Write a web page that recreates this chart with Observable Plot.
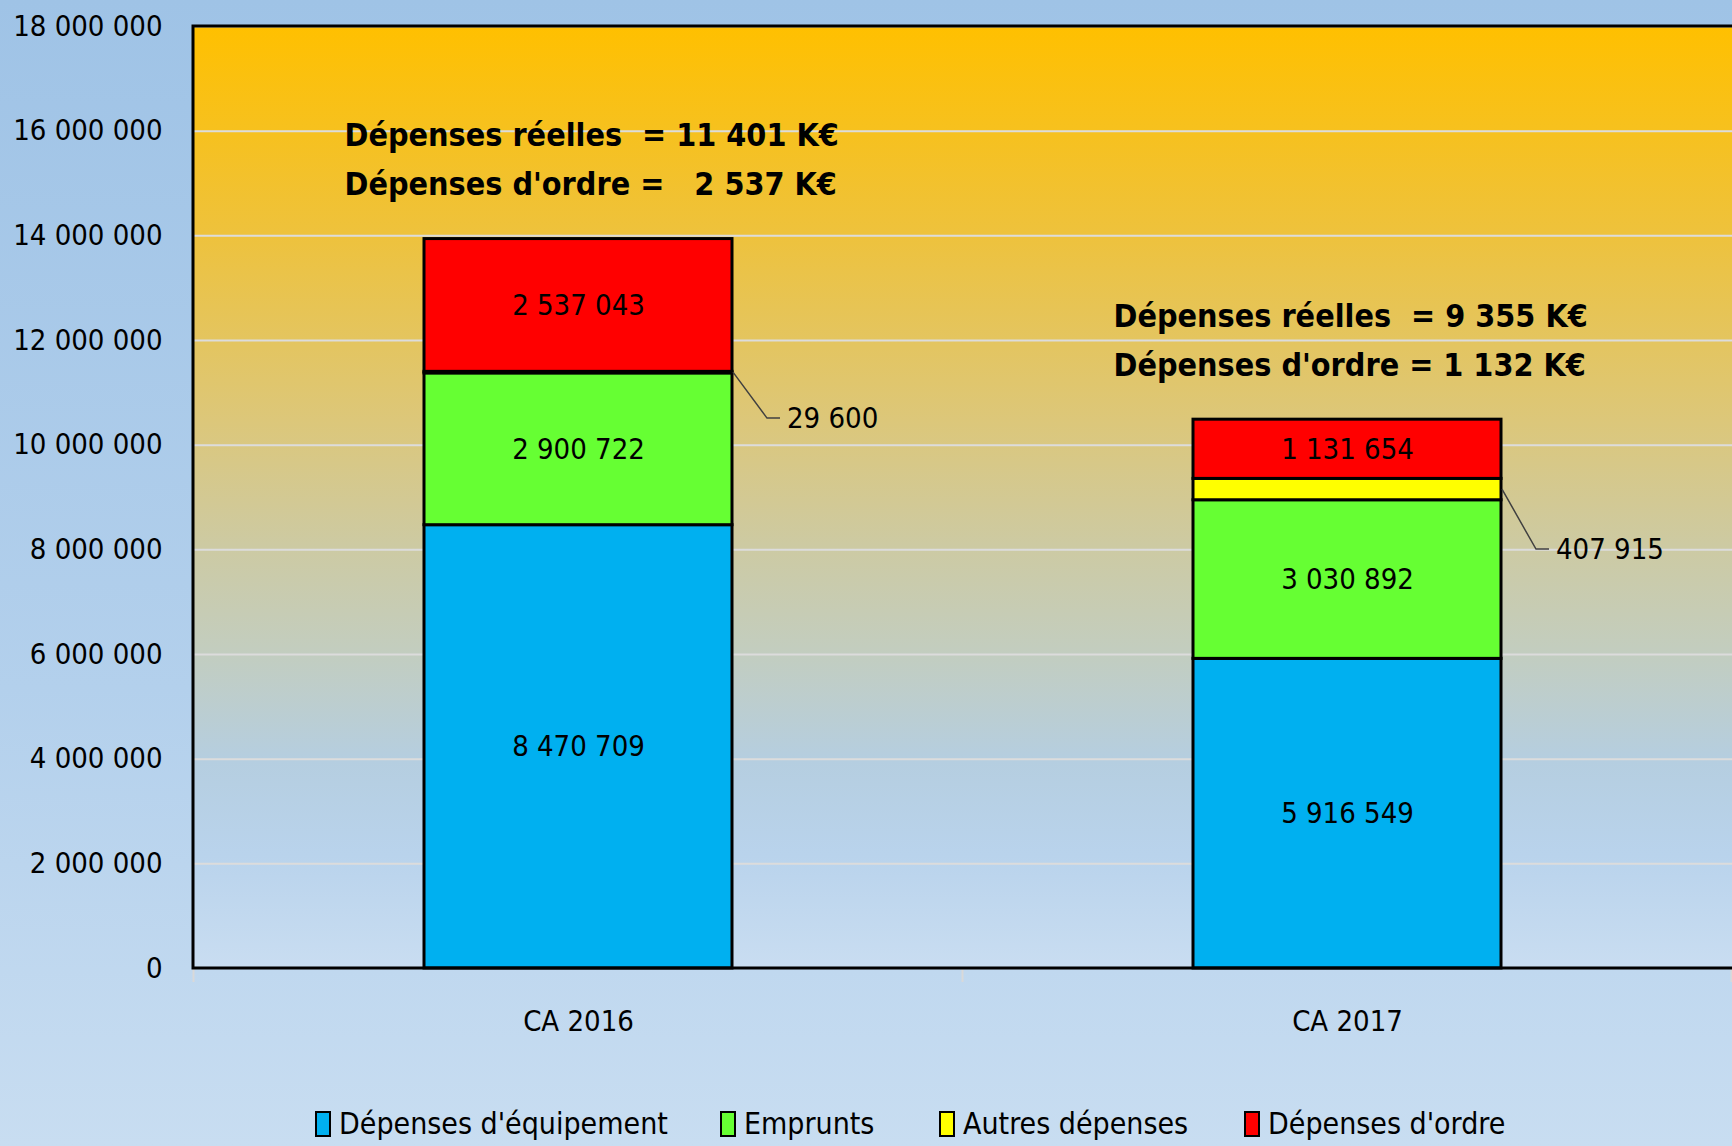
<!DOCTYPE html>
<html>
<head>
<meta charset="utf-8">
<script src="https://cdn.jsdelivr.net/npm/d3@7"></script>
<script src="https://cdn.jsdelivr.net/npm/@observablehq/plot@0.6"></script>
<style>
  html, body { margin: 0; padding: 0; }
  body {
    width: 1732px; height: 1146px; overflow: hidden; position: relative;
    background: linear-gradient(to bottom, #9FC3E6 0%, #B3D0EC 60%, #C8DDF1 100%);
    font-family: "DejaVu Sans Condensed", "Liberation Sans Narrow", sans-serif;
  }
  #chart { position: absolute; left: 0; top: 0; }
  #chart svg text { white-space: pre; }
  #legend { position: absolute; top: 1106px; left: 0; width: 1732px; height: 44px; }
  .item { position: absolute; top: 0; display: flex; align-items: center; font-size: 30px; color: #000; white-space: nowrap; }
  .sw { width: 12px; height: 22px; border: 2.5px solid #000; margin-right: 8px; }
</style>
</head>
<body>
<div id="chart"></div>
<div id="legend"></div>
<script>
// ---- data ----
const categories = ["CA 2016", "CA 2017"];
const seriesNames = ["Dépenses d'équipement", "Emprunts", "Autres dépenses", "Dépenses d'ordre"];
const equipement = [8470709, 5916549];
const emprunts = [2900722, 3030892];
const autres = [29600, 407915];
const ordre = [2537043, 1131654];
const yTicks = [0, 2000000, 4000000, 6000000, 8000000, 10000000, 12000000, 14000000, 16000000, 18000000];
const colors = ["#00B0F0", "#66FF33", "#FFFF00", "#FF0000"];

// ---- build table ----
const seriesValues = [equipement, emprunts, autres, ordre];
const rows = [];
categories.forEach((c, i) => {
  seriesNames.forEach((s, j) => rows.push({cat: c, series: s, value: seriesValues[j][i]}));
});
const fmt = v => d3.format(",")(v).replace(/,/g, " ");
const totals = categories.map((c, i) => {
  const reelles = equipement[i] + emprunts[i] + autres[i];
  return {cat: c, total: reelles + ordre[i], reelles: Math.round(reelles / 1000), ordre: Math.round(ordre[i] / 1000)};
});
const line1 = d => `Dépenses réelles  = ${fmt(d.reelles)} K€`;
const line2 = d => d.ordre >= 2000 ? `Dépenses d'ordre =   ${fmt(d.ordre)} K€` : `Dépenses d'ordre = ${fmt(d.ordre)} K€`;

const W = 1732, H = 1062;
const mL = 193, mT = 26, mR = 0, mB = H - 968;
const font = `"DejaVu Sans Condensed", "Liberation Sans Narrow", sans-serif`;
const FS = 29;
const calloutDy = [46, 60]; // leader line drop per category (style)

const bgMark = (index, scales, values, dims) => {
  const g = d3.create("svg:g");
  const defs = g.append("defs");
  const lg = defs.append("linearGradient").attr("id", "plotgrad").attr("x1", 0).attr("y1", 0).attr("x2", 0).attr("y2", 1);
  [[0, "#FFC000"], [0.22, "#EEC23C"], [0.42, "#DCC77A"], [0.55, "#CDCAA2"], [0.66, "#C3CDBE"], [0.78, "#B5CEE0"], [0.88, "#B9D3EC"], [1, "#C9DDF1"]]
    .forEach(([o, c]) => lg.append("stop").attr("offset", o).attr("stop-color", c));
  g.append("rect").attr("x", dims.marginLeft).attr("y", dims.marginTop)
    .attr("width", dims.width - dims.marginLeft - dims.marginRight)
    .attr("height", dims.height - dims.marginTop - dims.marginBottom)
    .attr("fill", "url(#plotgrad)");
  return g.node();
};

const frameMark = (index, scales, values, dims) => {
  const g = d3.create("svg:g");
  const x0 = dims.marginLeft, y0 = dims.marginTop, y1 = dims.height - dims.marginBottom, x1 = dims.width - dims.marginRight;
  const step = scales.x.step ? scales.x.step() : (x1 - x0) / 2;
  const bw = scales.x.bandwidth();
  const bounds = [scales.x(categories[0]) - (step - bw) / 2];
  categories.forEach(c => bounds.push(scales.x(c) + bw + (step - bw) / 2));
  bounds.forEach(b => g.append("line").attr("x1", b).attr("x2", b).attr("y1", y1).attr("y2", y1 + 14)
    .attr("stroke", "#D9D9D9").attr("stroke-width", 2));
  g.append("path").attr("d", `M${x1 + 2},${y0} H${x0} V${y1} H${x1 + 2}`)
    .attr("fill", "none").attr("stroke", "#000").attr("stroke-width", 3);
  return g.node();
};

const calloutMark = (index, scales, values, dims) => {
  const g = d3.create("svg:g");
  const bw = scales.x.bandwidth();
  categories.forEach((c, i) => {
    const base = equipement[i] + emprunts[i];
    const mid = base + autres[i] / 2;
    const xs = scales.x(c) + bw + 1, ys = scales.y(mid);
    const xe = xs + 34, ye = ys + calloutDy[i];
    g.append("path").attr("d", `M${xs},${ys} L${xe},${ye} H${xe + 13}`)
      .attr("fill", "none").attr("stroke", "#404040").attr("stroke-width", 1.5);
    g.append("text").attr("x", xe + 20).attr("y", ye).attr("dy", "0.35em")
      .attr("text-anchor", "start")
      .attr("font-size", FS).attr("font-family", font).attr("fill", "#000")
      .text(fmt(autres[i]));
  });
  return g.node();
};

const chart = Plot.plot({
  width: W, height: H,
  marginLeft: mL, marginTop: mT, marginRight: mR, marginBottom: mB,
  style: {fontFamily: font, background: "transparent", overflow: "visible"},
  x: {domain: categories, paddingInner: 0.6, paddingOuter: 0.3, label: null, tickSize: 0, tickPadding: 40},
  y: {domain: [0, 18000000], label: null, ticks: yTicks, tickSize: 0, tickPadding: 31, tickFormat: fmt},
  color: {domain: seriesNames, range: colors},
  marks: [
    bgMark,
    Plot.gridY(yTicks.filter(t => t > 0), {stroke: "#DCDCDC", strokeOpacity: 1, strokeWidth: 2}),
    Plot.barY(rows, Plot.stackY({order: seriesNames, x: "cat", y: "value", fill: "series", stroke: "#000", strokeWidth: 3})),
    Plot.text(rows, Plot.stackY({order: seriesNames, x: "cat", y: "value", z: "series",
      text: d => d.series === "Autres dépenses" ? null : fmt(d.value), fontSize: FS, fill: "#000"})),
    calloutMark,
    Plot.text(totals, {x: "cat", y: "total", text: line1, textAnchor: "start", dx: -234, dy: -103, fontSize: 32, fontWeight: "bold", fill: "#000"}),
    Plot.text(totals, {x: "cat", y: "total", text: line2, textAnchor: "start", dx: -234, dy: -54, fontSize: 32, fontWeight: "bold", fill: "#000"}),
    frameMark,
    Plot.axisX({tickSize: 0, tickPadding: 42, fontSize: FS, label: null}),
    Plot.axisY(yTicks, {tickSize: 0, tickPadding: 31, fontSize: FS, label: null, tickFormat: fmt})
  ]
});
d3.select(chart).selectAll("text").attr("fill", "#000");
document.getElementById("chart").appendChild(chart);

// legend (HTML, below)
const legendX = [315, 720, 939, 1244];
const legend = document.getElementById("legend");
seriesNames.forEach((s, i) => {
  const it = document.createElement("div");
  it.className = "item";
  it.style.left = legendX[i] + "px";
  const sw = document.createElement("span");
  sw.className = "sw"; sw.style.background = colors[i];
  it.appendChild(sw);
  it.appendChild(document.createTextNode(s));
  legend.appendChild(it);
});
</script>
</body>
</html>
